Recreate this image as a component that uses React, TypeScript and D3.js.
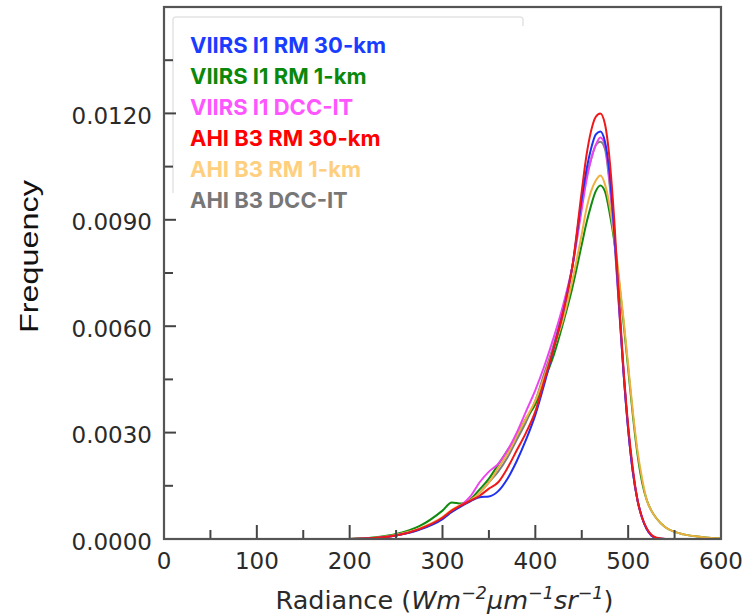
import * as d3 from "d3";

const W = 753;
const H = 616;

const radiance = [
  200, 225, 250, 275, 300, 310, 320, 330, 340, 350, 360, 370, 380, 390, 400, 410, 420, 430, 440, 450, 455,
  460, 465, 470, 475, 480, 485, 490, 495, 500, 505, 510, 515, 520, 525, 530, 540, 550, 560, 575, 590, 600,
];

const viirsRm30 = [
  0, 0.00002, 0.0001, 0.00026, 0.00056, 0.00076, 0.00092, 0.00106, 0.00118, 0.0012, 0.00135, 0.0017, 0.0022,
  0.0028, 0.0035, 0.0044, 0.0054, 0.0064, 0.0077, 0.0096, 0.0104, 0.011, 0.0114, 0.01149, 0.0112, 0.0103, 0.0087,
  0.0067, 0.0047, 0.0031, 0.0019, 0.0011, 0.0006, 0.00028, 0.0001, 0.00003, 0, 0, 0, 0, 0, 0,
];
const viirsRm1 = [
  0, 0.00004, 0.00014, 0.00036, 0.0008, 0.00103, 0.001, 0.00112, 0.0014, 0.0017, 0.0021, 0.0025, 0.0029, 0.0034,
  0.0038, 0.0045, 0.0052, 0.0061, 0.0071, 0.0083, 0.0089, 0.0094, 0.0098, 0.00997, 0.0098, 0.0092, 0.0084, 0.0073,
  0.0061, 0.0048, 0.0035, 0.0024, 0.0016, 0.0011, 0.0008, 0.0006, 0.00033, 0.0002, 0.00013, 0.00007, 0.00003, 0.00002,
];
const viirsDcc = [
  0, 0.00002, 0.0001, 0.00027, 0.00058, 0.00078, 0.00095, 0.0012, 0.0016, 0.0019, 0.00212, 0.0025, 0.003, 0.0036,
  0.0042, 0.0049, 0.0057, 0.0066, 0.0077, 0.0093, 0.0101, 0.0107, 0.0111, 0.01132, 0.0111, 0.0101, 0.0086, 0.0066,
  0.0047, 0.0031, 0.0019, 0.0011, 0.0006, 0.00028, 0.0001, 0.00003, 0, 0, 0, 0, 0, 0,
];
const ahiRm30 = [
  0, 0.00003, 0.0001, 0.00028, 0.0006, 0.0008, 0.00095, 0.00108, 0.00122, 0.00142, 0.0016, 0.002, 0.0025, 0.003,
  0.0036, 0.0045, 0.0054, 0.0064, 0.0077, 0.0098, 0.0108, 0.0115, 0.0119, 0.012, 0.0117, 0.0107, 0.009, 0.0068,
  0.0048, 0.0032, 0.002, 0.0011, 0.0006, 0.0003, 0.00012, 0.00004, 0, 0, 0, 0, 0, 0,
];
const ahiRm1 = [
  0, 0.00003, 0.00012, 0.0003, 0.00062, 0.00082, 0.00097, 0.0011, 0.0013, 0.0016, 0.002, 0.0024, 0.0029, 0.0034,
  0.0039, 0.0046, 0.0054, 0.0062, 0.0073, 0.0086, 0.0093, 0.0098, 0.0101, 0.01025, 0.01, 0.0094, 0.0085, 0.0074,
  0.0062, 0.0049, 0.0036, 0.0025, 0.0017, 0.0011, 0.0008, 0.0006, 0.00033, 0.0002, 0.00013, 0.00007, 0.00003, 0.00002,
];
const ahiDcc = [
  0, 0.00002, 0.0001, 0.00027, 0.00057, 0.00077, 0.00094, 0.0011, 0.0013, 0.0016, 0.0019, 0.0023, 0.0028, 0.0033,
  0.0039, 0.0047, 0.0055, 0.0065, 0.0077, 0.0094, 0.0102, 0.0107, 0.0111, 0.0112, 0.011, 0.01, 0.0085, 0.0066,
  0.0047, 0.0031, 0.0019, 0.0011, 0.0006, 0.00028, 0.0001, 0.00003, 0, 0, 0, 0, 0, 0,
];

const legendNames = [
  "VIIRS I1 RM 30-km",
  "VIIRS I1 RM 1-km",
  "VIIRS I1 DCC-IT",
  "AHI B3 RM 30-km",
  "AHI B3 RM 1-km",
  "AHI B3 DCC-IT",
];
const legendColors = ["#1a3cff", "#0a880a", "#ff55ff", "#ff0000", "#ffcf80", "#777777"];

const xTicks = [0, 100, 200, 300, 400, 500, 600];
const xMinor = [50, 150, 250, 350, 450, 550];
const yTicks = [0, 0.003, 0.006, 0.009, 0.012];
const yMinor = [0.0015, 0.0045, 0.0075, 0.0105, 0.0135];

// draw order: back to front
const series = [
  { name: "AHI B3 DCC-IT", values: ahiDcc, color: "#808080" },
  { name: "VIIRS I1 RM 1-km", values: viirsRm1, color: "#108a10" },
  { name: "AHI B3 RM 1-km", values: ahiRm1, color: "#f0b040" },
  { name: "VIIRS I1 DCC-IT", values: viirsDcc, color: "#ee44ee" },
  { name: "VIIRS I1 RM 30-km", values: viirsRm30, color: "#2030f0" },
  { name: "AHI B3 RM 30-km", values: ahiRm30, color: "#f01818" },
];

export default function App() {
  const left = 164;
  const right = 721;
  const top = 7;
  const bottom = 539;

  const x = d3.scaleLinear().domain([0, 600]).range([left, right]);
  const y = d3.scaleLinear().domain([0, 0.015]).range([bottom, top]);

  const line = d3
    .line<number>()
    .x((d, i) => x(radiance[i]))
    .y((d) => y(d))
    .curve(d3.curveMonotoneX);

  const tickFont = "'DejaVu Sans', sans-serif";
  const axisColor = "#444";

  return (
    <svg width={W} height={H} style={{ position: "absolute", left: 0, top: 0, background: "#fff" }}>
      <rect x={0} y={0} width={W} height={H} fill="#fff" />

      {/* legend frame (faint) */}
      <path d="M173,193 V20 Q173,17 176,17 H520 Q523,17 523,20 V26" fill="none" stroke="#e4e4e4" strokeWidth={1.5} />

      {series.map((s) => (
        <path key={s.name} d={line(s.values) || ""} fill="none" stroke={s.color} strokeWidth={2} strokeLinejoin="round" />
      ))}

      {/* ticks */}
      {xTicks.map((t) => (
        <line key={"xt" + t} x1={x(t)} x2={x(t)} y1={bottom} y2={bottom - 14} stroke={axisColor} strokeWidth={2} />
      ))}
      {xMinor.map((t) => (
        <line key={"xm" + t} x1={x(t)} x2={x(t)} y1={bottom} y2={bottom - 9} stroke={axisColor} strokeWidth={2} />
      ))}
      {yTicks.map((t) => (
        <line key={"yt" + t} x1={left} x2={left + 12} y1={y(t)} y2={y(t)} stroke={axisColor} strokeWidth={2} />
      ))}
      {yMinor.map((t) => (
        <line key={"ym" + t} x1={left} x2={left + 9} y1={y(t)} y2={y(t)} stroke={axisColor} strokeWidth={2} />
      ))}

      <rect x={left} y={top} width={right - left} height={bottom - top} fill="none" stroke="#555" strokeWidth={2.2} />

      {/* tick labels */}
      {xTicks.map((t) => (
        <text key={"xl" + t} x={x(t)} y={569} textAnchor="middle" fontFamily={tickFont} fontSize={23} fill="#2a2a2a">
          {t}
        </text>
      ))}
      {yTicks.map((t) => (
        <text key={"yl" + t} x={152} y={y(t) + 10.5} textAnchor="end" fontFamily={tickFont} fontSize={23} fill="#2a2a2a">
          {d3.format(".4f")(t)}
        </text>
      ))}

      {/* axis titles */}
      <text x={(left + right) / 2 + 2} y={609} textAnchor="middle" fontFamily={tickFont} fontSize={25.5} fill="#2a2a2a">
        <tspan>Radiance (</tspan>
        <tspan fontStyle="italic">Wm</tspan>
        <tspan fontStyle="italic" fontSize={17.5} dy={-10}>
          −2
        </tspan>
        <tspan fontStyle="italic" dy={10}>
          μm
        </tspan>
        <tspan fontStyle="italic" fontSize={17.5} dy={-10}>
          −1
        </tspan>
        <tspan fontStyle="italic" dy={10}>
          sr
        </tspan>
        <tspan fontStyle="italic" fontSize={17.5} dy={-10}>
          −1
        </tspan>
        <tspan dy={10}>)</tspan>
      </text>
      <text
        transform={`translate(38,${(180 + 333) / 2}) rotate(-90)`}
        textAnchor="middle"
        fontFamily="'Liberation Sans', Arial, sans-serif"
        fontSize={25}
        textLength={153}
        lengthAdjust="spacingAndGlyphs"
        fill="#111"
      >
        Frequency
      </text>

      {/* legend */}
      {legendNames.map((n, i) => (
        <text
          key={n}
          x={190}
          y={53 + i * 31}
          fontFamily="Inter, 'Noto Sans', sans-serif"
          fontWeight={700}
          fontSize={22}
          fill={legendColors[i]}
        >
          {n}
        </text>
      ))}
    </svg>
  );
}
